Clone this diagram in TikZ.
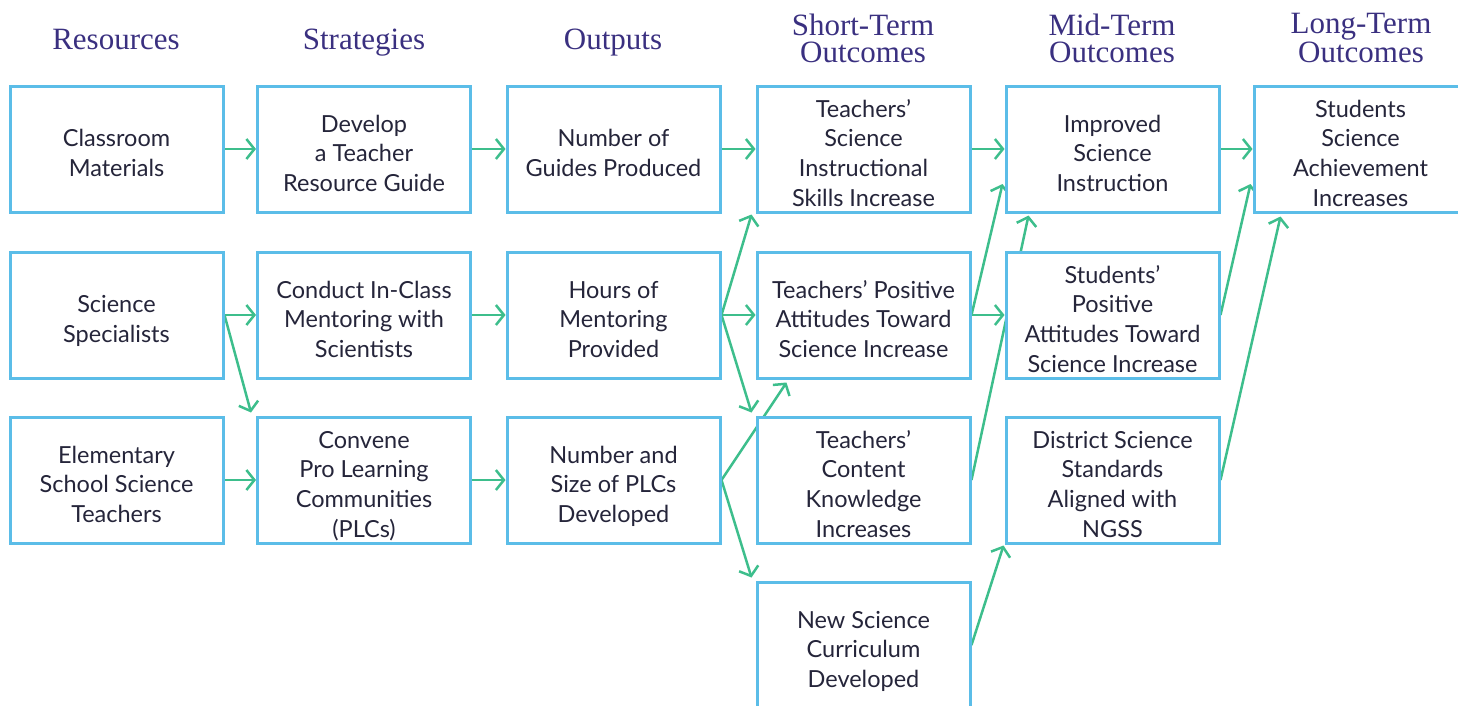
\documentclass[tikz,border=0pt]{standalone}
\usepackage{fontspec}
\setmainfont{Lato}
\newfontfamily\headfont{Liberation Serif}
\usetikzlibrary{arrows.meta,calc}
\pgfdeclarelayer{background}
\pgfsetlayers{background,main}
\definecolor{boxblue}{HTML}{5BBDE8}
\definecolor{arrgreen}{HTML}{3DBE8C}
\definecolor{txt}{HTML}{25253A}
\definecolor{headc}{HTML}{3A3080}
\newcommand\boxtext[1]{\raisebox{-13pt}[0pt][0pt]{\begin{tabular}{@{}c@{}}#1\end{tabular}}}
\tikzset{
  box/.style={draw=boxblue, line width=3pt, fill=white, minimum width=213pt, minimum height=126pt,
    inner sep=0pt, text=txt, font=\fontsize{23.5}{29.7}\selectfont},
  head/.style={text=headc, align=center, anchor=base, font=\headfont\fontsize{31}{26.5}\selectfont},
  arr/.style={draw=arrgreen, line width=2.5pt, -{Straight Barb[length=8pt,width=20pt,line width=2.5pt]}}
}
\begin{document}
\begin{tikzpicture}[x=1pt,y=-1pt]
\useasboundingbox (0,0) rectangle (1458,705);
\clip (0,0) rectangle (1458,705);
% headers
\node[head] (h1) at (116,49) {Resources};
\node[head] (h2) at (364,49) {Strategies};
\node[head] (h3) at (613,49) {Outputs};
\node[head] (h4) at (863,62) {Short-Term\\Outcomes};
\node[head] (h5) at (1112,62) {Mid-Term\\Outcomes};
\node[head] (h6) at (1361,62) {Long-Term\\Outcomes};
% boxes
\node[box] (c1) at (116.5,149) {\boxtext{Classroom\\Materials}};
\node[box] (c2) at (116.5,315) {\boxtext{Science\\Specialists}};
\node[box] (c3) at (116.5,480) {\boxtext{Elementary\\School Science\\Teachers}};
\node[box] (s1) at (364,149) {\boxtext{Develop\\a Teacher\\Resource Guide}};
\node[box] (s2) at (364,315) {\boxtext{Conduct In-Class\\Mentoring with\\Scientists}};
\node[box] (s3) at (364,480) {\boxtext{Convene\\Pro Learning\\Communities\\(PLCs)}};
\node[box] (o1) at (613.5,149) {\boxtext{Number of\\Guides Produced}};
\node[box] (o2) at (613.5,315) {\boxtext{Hours of\\Mentoring\\Provided}};
\node[box] (o3) at (613.5,480) {\boxtext{Number and\\Size of PLCs\\Developed}};
\node[box] (st1) at (863.5,149) {\boxtext{Teachers’\\Science\\Instructional\\Skills Increase}};
\node[box] (st2) at (863.5,315) {\boxtext{Teachers’ Positive\\Attitudes Toward\\Science Increase}};
\node[box] (st3) at (863.5,480) {\boxtext{Teachers’\\Content\\Knowledge\\Increases}};
\node[box] (st4) at (863.5,645) {\boxtext{New Science\\Curriculum\\Developed}};
\node[box] (mt1) at (1112.5,149) {\boxtext{Improved\\Science\\Instruction}};
\node[box] (mt2) at (1112.5,315) {\boxtext{Students’\\Positive\\Attitudes Toward\\Science Increase}};
\node[box] (mt3) at (1112.5,480) {\boxtext{District Science\\Standards\\Aligned with\\NGSS}};
\node[box] (lt1) at (1360.5,149) {\boxtext{Students\\Science\\Achievement\\Increases}};
% connectors
\begin{pgfonlayer}{background}
\draw[arr] (c1.east) -- (s1.west);
\draw[arr] (s1.east) -- (o1.west);
\draw[arr] (o1.east) -- (st1.west);
\draw[arr] (st1.east) -- (mt1.west);
\draw[arr] (mt1.east) -- (lt1.west);
\draw[arr] (c2.east) -- (s2.west);
\draw[arr] (c2.east) -- ($(s3.north west)+(-5,-3)$);
\draw[arr] (s2.east) -- (o2.west);
\draw[arr] (c3.east) -- (s3.west);
\draw[arr] (s3.east) -- (o3.west);
\draw[arr] (o2.east) -- (st2.west);
\draw[arr] (o2.east) -- ($(st1.south west)+(-4,1)$);
\draw[arr] (o2.east) -- ($(st3.north west)+(-4,-3)$);
\draw[arr] (o3.east) -- ($(st2.south west)+(31,3)$);
\draw[arr] (o3.east) -- ($(st4.north west)+(-4,-3)$);
\draw[arr] (st2.east) -- ($(mt1.west)+(-2,35)$);
\draw[arr] (st2.east) -- (mt2.west);
\draw[arr] (st3.east) -- ($(mt1.south west)+(24,2)$);
\draw[arr] (st4.east) -- ($(mt3.south west)+(-1,1)$);
\draw[arr] (mt2.east) -- ($(lt1.west)+(-2,35)$);
\draw[arr] (mt3.east) -- ($(lt1.south west)+(28,3)$);
\end{pgfonlayer}
\end{tikzpicture}
\end{document}
